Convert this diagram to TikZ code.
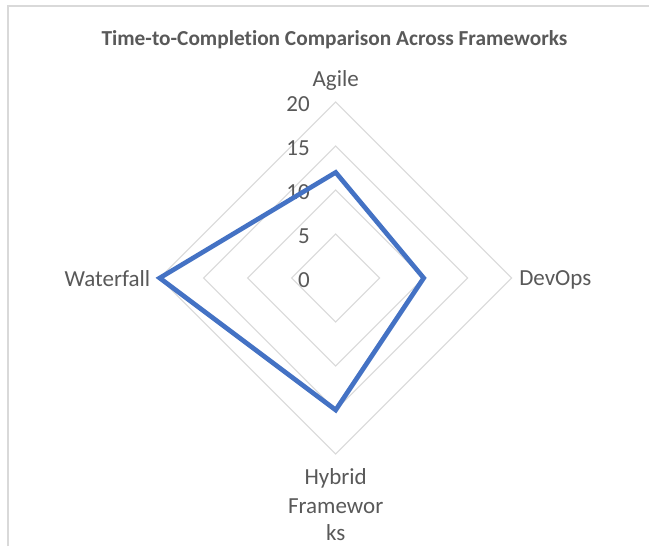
\documentclass[tikz,border=0pt]{standalone}
\usepackage{fontspec}
\setmainfont{Carlito}[Ligatures=NoCommon]
\usetikzlibrary{calc}
\definecolor{framegray}{HTML}{D9D9D9}
\definecolor{gridgray}{HTML}{D9D9D9}
\definecolor{txtgray}{HTML}{595959}
\definecolor{seriesblue}{HTML}{4472C4}
\begin{document}
\begin{tikzpicture}[x=0.75pt,y=-0.75pt,
  charttitle/.style={inner sep=0pt,text=txtgray,font=\fontsize{16}{19}\selectfont\bfseries},
  axislabel/.style={inner sep=0pt,text=txtgray,font=\fontsize{17.25}{22.5}\selectfont},
  ticklabel/.style={inner sep=0pt,text=txtgray,font=\fontsize{17.25}{20}\selectfont,anchor=base east},
  gridring/.style={draw=gridgray,line width=0.8pt},
  series/.style={draw=seriesblue,line width=3.5pt,miter limit=10}]
\useasboundingbox (0,0) rectangle (649,546);
\fill[white] (0,0) rectangle (649,546);
% chart area frame
\draw[framegray,line width=1.6pt] (8,546) -- (8,6) -- (649,6);

% radar centre and scale: 8.8 px per unit
\coordinate (c) at (335.7,278);

% grid rings at 5, 10, 15, 20
\foreach \r in {5,10,15,20}{
  \draw[gridring] ($(c)+(0,-8.8*\r)$) -- ($(c)+(8.8*\r,0)$) -- ($(c)+(0,8.8*\r)$) -- ($(c)+(-8.8*\r,0)$) -- cycle;
}

% tick labels
\foreach \v in {0,5,10,15,20}{
  \node[ticklabel] (t\v) at ($(c)+(-25.7,9-8.8*\v)$) {\v};
}

% data series: Agile 12, DevOps 10, Hybrid 15, Waterfall 20
\coordinate (pA) at ($(c)+(0,-8.8*12)$);
\coordinate (pD) at ($(c)+(8.8*10,0)$);
\coordinate (pH) at ($(c)+(0,8.8*15)$);
\coordinate (pW) at ($(c)+(-8.8*20,0)$);
\draw[series] (pA) -- (pD) -- (pH) -- (pW) -- cycle;

% category labels
\node[axislabel,anchor=base] (lA) at (335.7,86) {Agile};
\node[axislabel,anchor=base west] (lD) at (519,285.5) {DevOps};
\node[axislabel,anchor=base east] (lW) at (150.5,286.5) {Waterfall};
\node[axislabel,anchor=base] (lH1) at (335.7,484.5) {Hybrid};
\node[axislabel,anchor=base] (lH2) at (335.7,513.5) {Framewor};
\node[axislabel,anchor=base] (lH3) at (335.7,540.5) {ks};

% title
\node[charttitle,anchor=base] (title) at (334.5,45.7) {Time-to-Completion Comparison Across Frameworks};
\end{tikzpicture}
\end{document}
